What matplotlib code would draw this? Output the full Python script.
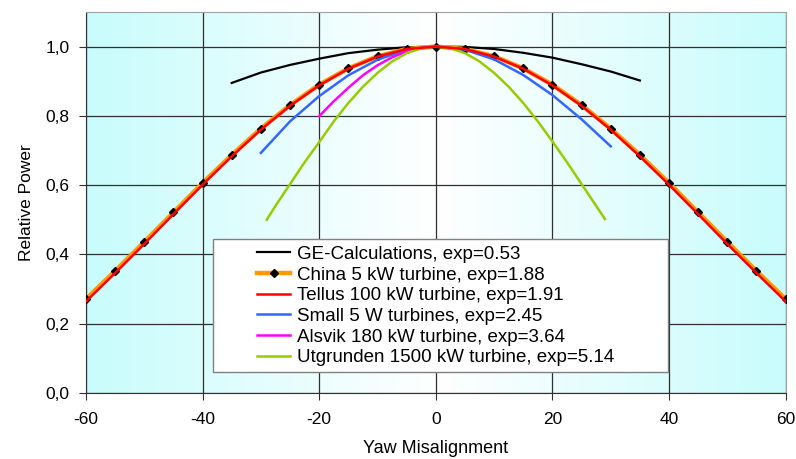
import matplotlib.pyplot as plt
import matplotlib.patches as mpatches
import numpy as np
from matplotlib.colors import LinearSegmentedColormap
from matplotlib.ticker import FuncFormatter

plt.rcParams['font.family'] = ['Liberation Sans', 'DejaVu Sans']
plt.rcParams['axes.unicode_minus'] = False

# GE calculations, exp=0.53
ge_x = [-35, -30, -25, -20, -15, -10, -5, 0, 5, 10, 15, 20, 25, 30, 35]
ge_y = [0.895, 0.925, 0.947, 0.965, 0.981, 0.991, 0.998, 1.0, 0.999, 0.993, 0.982, 0.968, 0.949, 0.928, 0.902]

# China 5 kW turbine, exp=1.88 (marker every 5 deg)
china_x = [-60, -55, -50, -45, -40, -35, -30, -25, -20, -15, -10, -5, 0,
           5, 10, 15, 20, 25, 30, 35, 40, 45, 50, 55, 60]
china_y = [0.271, 0.352, 0.436, 0.521, 0.606, 0.687, 0.763, 0.831, 0.890, 0.937, 0.972, 0.993, 1.0,
           0.993, 0.972, 0.937, 0.890, 0.831, 0.763, 0.687, 0.606, 0.521, 0.436, 0.352, 0.271]

# Tellus 100 kW turbine, exp=1.91
tellus_x = china_x
tellus_y = [0.264, 0.346, 0.430, 0.516, 0.601, 0.683, 0.760, 0.829, 0.888, 0.936, 0.971, 0.993, 1.0,
            0.993, 0.971, 0.936, 0.888, 0.829, 0.760, 0.683, 0.601, 0.516, 0.430, 0.346, 0.264]

# Small 5 W turbines, exp=2.45
small_x = [-30, -25, -20, -15, -10, -5, 0, 5, 10, 15, 20, 25, 30]
small_y = [0.693, 0.784, 0.857, 0.917, 0.962, 0.991, 1.0, 0.991, 0.963, 0.918, 0.860, 0.790, 0.712]

# Alsvik 180 kW turbine, exp=3.64
alsvik_x = [-20, -17.5, -15, -12.5, -10, -7.5, -5, -2.5, 0]
alsvik_y = [0.799, 0.842, 0.881, 0.917, 0.946, 0.969, 0.986, 0.996, 1.0]

# Utgrunden 1500 kW turbine, exp=5.14
utg_x = [-29, -27.5, -25, -22.5, -20, -17.5, -15, -12.5, -10, -7.5, -5, -2.5, 0,
         2.5, 5, 7.5, 10, 12.5, 15, 17.5, 20, 22.5, 25, 27.5, 29]
utg_y = [0.500, 0.540, 0.603, 0.666, 0.724, 0.784, 0.837, 0.884, 0.924, 0.957, 0.981, 0.995, 1.0,
         0.995, 0.981, 0.957, 0.924, 0.884, 0.837, 0.784, 0.726, 0.666, 0.603, 0.540, 0.502]

fig = plt.figure(figsize=(7.96, 4.59), dpi=100)
ax = fig.add_axes([0.108, 0.144, 0.879, 0.830])

# horizontal background gradient: cyan at the edges, white in the middle
cmap = LinearSegmentedColormap.from_list('bg', ['#c8fcfc', '#ffffff'])
grad = 1 - np.abs(np.linspace(-1, 1, 400))
ax.imshow(grad[np.newaxis, :], extent=[-60, 60, 0, 1.1], aspect='auto',
          cmap=cmap, zorder=0, vmin=0, vmax=1)

ax.plot(ge_x, ge_y, color='black', lw=1.6, label='GE-Calculations, exp=0.53', zorder=3)
ax.plot(china_x, china_y, color='#ff9900', lw=3.2, marker='D', ms=4.5,
        mfc='black', mec='black', label='China 5 kW turbine, exp=1.88', zorder=3)
ax.plot(tellus_x, tellus_y, color='#ff0000', lw=1.8, label='Tellus 100 kW turbine, exp=1.91', zorder=4)
ax.plot(small_x, small_y, color='#3366ff', lw=1.8, label='Small 5 W turbines, exp=2.45', zorder=3)
ax.plot(alsvik_x, alsvik_y, color='#ff00ff', lw=1.8, label='Alsvik 180 kW turbine, exp=3.64', zorder=3)
ax.plot(utg_x, utg_y, color='#99cc00', lw=1.8, label='Utgrunden 1500 kW turbine, exp=5.14', zorder=3)

ax.set_xlim(-60, 60)
ax.set_ylim(0, 1.1)
ax.set_xticks(np.arange(-60, 61, 20))
ax.set_yticks(np.arange(0, 1.01, 0.2))
ax.yaxis.set_major_formatter(FuncFormatter(lambda v, p: f'{v:.1f}'.replace('.', ',')))
ax.grid(True, color='#303030', lw=0.9, zorder=1)
ax.tick_params(labelsize=12.5, length=5, color='#303030')
ax.tick_params(axis='x', pad=9)
ax.tick_params(axis='y', pad=7)
for s in ax.spines.values():
    s.set_color('#a0a0a0')
ax.spines['bottom'].set_color('#303030')
ax.spines['left'].set_color('#303030')

ax.set_xlabel('Yaw Misalignment', fontsize=13, labelpad=9)
ax.set_ylabel('Relative Power', fontsize=12.5, labelpad=8)

# legend box drawn separately so the handles can sit well inside it
box = mpatches.Rectangle((0.181, 0.055), 0.651, 0.349, transform=ax.transAxes,
                         facecolor='white', edgecolor='#808080', lw=1, zorder=5)
ax.add_patch(box)
leg = ax.legend(loc='upper left', bbox_to_anchor=(0.245, 0.386), frameon=False,
                fontsize=13.5, handlelength=1.75, borderpad=0, labelspacing=0.19,
                handletextpad=0.35, borderaxespad=0)
leg.set_zorder(6)

fig.savefig('out.png', dpi=100)
